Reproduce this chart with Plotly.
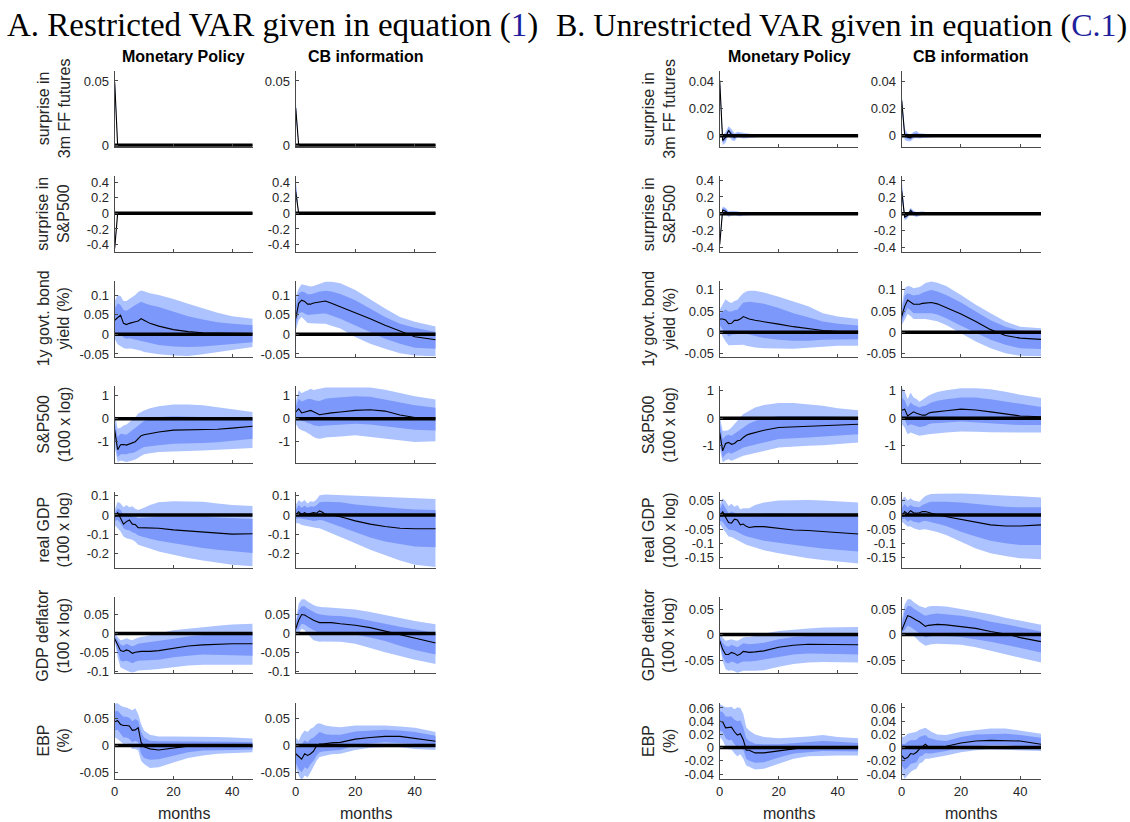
import plotly.graph_objects as go

# ---------------- data ----------------
months = [0, 1, 2, 3, 4, 5, 6, 7, 8, 9, 10, 12, 15, 20, 25, 30, 35, 40, 47]
row_labels = ["surprise in<br>3m FF futures", "surprise in<br>S&P500", "1y govt. bond<br>yield (%)",
              "S&P500<br>(100 x log)", "real GDP<br>(100 x log)", "GDP deflator<br>(100 x log)", "EBP<br>(%)"]
col_titles = ["Monetary Policy", "CB information"]
x_ticks = [0, 20, 40]

# Panel A / B tick values and ranges per row
A_yticks = [[0, 0.05], [-0.4, -0.2, 0, 0.2, 0.4], [-0.05, 0, 0.05, 0.1], [-1, 0, 1],
            [-0.2, -0.1, 0, 0.1], [-0.1, -0.05, 0, 0.05], [-0.05, 0, 0.05]]
B_yticks = [[0, 0.02, 0.04], [-0.4, -0.2, 0, 0.2, 0.4], [-0.05, 0, 0.05, 0.1], [-1, 0, 1],
            [-0.15, -0.1, -0.05, 0, 0.05], [-0.05, 0, 0.05], [-0.04, -0.02, 0, 0.02, 0.04, 0.06]]
A_yrange = [[-0.0012, 0.058], [-0.5, 0.48], [-0.057, 0.136], [-1.94, 1.42],
            [-0.275, 0.118], [-0.104, 0.094], [-0.062, 0.079]]
B_yrange = [[-0.008, 0.048], [-0.46, 0.45], [-0.058, 0.121], [-1.64, 1.17],
            [-0.186, 0.08], [-0.076, 0.073], [-0.048, 0.068]]

# ---- Panel A, row 1: surprise in 3m FF futures
A_ff_MP_med  = [0.049, 0, 0, 0, 0, 0, 0, 0, 0, 0, 0, 0, 0, 0, 0, 0, 0, 0, 0]
A_ff_MP_hi90 = [0.056, 0.0005, 0.0003, 0.0002, 0.0002, 0.0001, 0.0001, 0.0001, 0, 0, 0, 0, 0, 0, 0, 0, 0, 0, 0]
A_ff_MP_hi68 = [0.053, 0.0003, 0.0002, 0.0001, 0.0001, 0.0001, 0, 0, 0, 0, 0, 0, 0, 0, 0, 0, 0, 0, 0]
A_ff_MP_lo68 = [0.046, -0.0003, -0.0002, -0.0001, -0.0001, -0.0001, 0, 0, 0, 0, 0, 0, 0, 0, 0, 0, 0, 0, 0]
A_ff_MP_lo90 = [0.044, -0.0005, -0.0003, -0.0002, -0.0002, -0.0001, -0.0001, -0.0001, 0, 0, 0, 0, 0, 0, 0, 0, 0, 0, 0]
A_ff_CB_med  = [0.029, 0, 0, 0, 0, 0, 0, 0, 0, 0, 0, 0, 0, 0, 0, 0, 0, 0, 0]
A_ff_CB_hi90 = [0.036, 0.0006, 0.0004, 0.0003, 0.0002, 0.0001, 0.0001, 0.0001, 0, 0, 0, 0, 0, 0, 0, 0, 0, 0, 0]
A_ff_CB_hi68 = [0.033, 0.0004, 0.0002, 0.0002, 0.0001, 0.0001, 0, 0, 0, 0, 0, 0, 0, 0, 0, 0, 0, 0, 0]
A_ff_CB_lo68 = [0.026, -0.0004, -0.0002, -0.0002, -0.0001, -0.0001, 0, 0, 0, 0, 0, 0, 0, 0, 0, 0, 0, 0, 0]
A_ff_CB_lo90 = [0.024, -0.0006, -0.0004, -0.0003, -0.0002, -0.0001, -0.0001, -0.0001, 0, 0, 0, 0, 0, 0, 0, 0, 0, 0, 0]

# ---- Panel A, row 2: surprise in S&P500
A_sp_MP_med  = [-0.45, 0, 0, 0, 0, 0, 0, 0, 0, 0, 0, 0, 0, 0, 0, 0, 0, 0, 0]
A_sp_MP_hi90 = [-0.41, 0.004, 0.003, 0.002, 0.002, 0.001, 0.001, 0.001, 0, 0, 0, 0, 0, 0, 0, 0, 0, 0, 0]
A_sp_MP_hi68 = [-0.43, 0.002, 0.002, 0.001, 0.001, 0.001, 0, 0, 0, 0, 0, 0, 0, 0, 0, 0, 0, 0, 0]
A_sp_MP_lo68 = [-0.47, -0.002, -0.002, -0.001, -0.001, -0.001, 0, 0, 0, 0, 0, 0, 0, 0, 0, 0, 0, 0, 0]
A_sp_MP_lo90 = [-0.5, -0.004, -0.003, -0.002, -0.002, -0.001, -0.001, -0.001, 0, 0, 0, 0, 0, 0, 0, 0, 0, 0, 0]
A_sp_CB_med  = [0.28, 0, 0, 0, 0, 0, 0, 0, 0, 0, 0, 0, 0, 0, 0, 0, 0, 0, 0]
A_sp_CB_hi90 = [0.45, 0.004, 0.003, 0.002, 0.002, 0.001, 0.001, 0.001, 0, 0, 0, 0, 0, 0, 0, 0, 0, 0, 0]
A_sp_CB_hi68 = [0.38, 0.002, 0.002, 0.001, 0.001, 0.001, 0, 0, 0, 0, 0, 0, 0, 0, 0, 0, 0, 0, 0]
A_sp_CB_lo68 = [0.26, -0.002, -0.002, -0.001, -0.001, -0.001, 0, 0, 0, 0, 0, 0, 0, 0, 0, 0, 0, 0, 0]
A_sp_CB_lo90 = [0.24, -0.004, -0.003, -0.002, -0.002, -0.001, -0.001, -0.001, 0, 0, 0, 0, 0, 0, 0, 0, 0, 0, 0]

# ---- Panel A, row 3: 1y govt. bond yield
A_gs1_MP_med  = [0.036, 0.043, 0.049, 0.028, 0.025, 0.028, 0.031, 0.032, 0.034, 0.04, 0.036, 0.028, 0.021, 0.012, 0.007, 0.004, 0.003, 0.002, 0.002]
A_gs1_MP_hi90 = [0.085, 0.1, 0.098, 0.085, 0.085, 0.09, 0.095, 0.1, 0.108, 0.112, 0.11, 0.105, 0.1, 0.09, 0.078, 0.066, 0.055, 0.046, 0.04]
A_gs1_MP_hi68 = [0.066, 0.079, 0.075, 0.062, 0.06, 0.066, 0.07, 0.075, 0.08, 0.083, 0.08, 0.075, 0.07, 0.057, 0.046, 0.038, 0.031, 0.027, 0.023]
A_gs1_MP_lo68 = [0.006, -0.002, 0.0, -0.008, -0.011, -0.01, -0.012, -0.013, -0.015, -0.017, -0.019, -0.022, -0.027, -0.031, -0.032, -0.031, -0.028, -0.025, -0.02]
A_gs1_MP_lo90 = [-0.012, -0.025, -0.03, -0.035, -0.037, -0.036, -0.037, -0.038, -0.04, -0.042, -0.045, -0.048, -0.051, -0.054, -0.055, -0.051, -0.046, -0.04, -0.032]
A_gs1_CB_med  = [0.04, 0.079, 0.087, 0.084, 0.077, 0.077, 0.08, 0.081, 0.082, 0.084, 0.085, 0.079, 0.07, 0.057, 0.04, 0.023, 0.009, -0.006, -0.014]
A_gs1_CB_hi90 = [0.096, 0.117, 0.128, 0.126, 0.123, 0.122, 0.123, 0.126, 0.13, 0.132, 0.134, 0.134, 0.13, 0.113, 0.089, 0.066, 0.044, 0.032, 0.02]
A_gs1_CB_hi68 = [0.07, 0.104, 0.109, 0.107, 0.102, 0.102, 0.104, 0.107, 0.109, 0.11, 0.111, 0.109, 0.103, 0.087, 0.066, 0.044, 0.027, 0.017, 0.006]
A_gs1_CB_lo68 = [0.023, 0.053, 0.057, 0.053, 0.049, 0.049, 0.05, 0.051, 0.052, 0.053, 0.053, 0.048, 0.04, 0.023, 0.006, -0.011, -0.024, -0.034, -0.037]
A_gs1_CB_lo90 = [0.01, 0.036, 0.044, 0.036, 0.029, 0.028, 0.027, 0.027, 0.027, 0.027, 0.027, 0.022, 0.015, -0.007, -0.024, -0.037, -0.048, -0.054, -0.056]

# ---- Panel A, row 4: S&P500 (100 x log)
A_spx_MP_med  = [-0.5, -1.35, -1.13, -1.12, -1.15, -1.1, -1.06, -1.0, -0.87, -0.74, -0.7, -0.65, -0.58, -0.5, -0.49, -0.48, -0.46, -0.41, -0.33]
A_spx_MP_hi90 = [0.22, -0.43, -0.4, -0.3, -0.25, -0.15, -0.07, 0.05, 0.22, 0.3, 0.36, 0.45, 0.54, 0.62, 0.62, 0.58, 0.5, 0.39, 0.29]
A_spx_MP_hi68 = [-0.14, -0.8, -0.66, -0.68, -0.7, -0.6, -0.5, -0.4, -0.29, -0.18, -0.1, -0.02, 0.07, 0.1, 0.1, 0.07, 0.05, 0.04, 0.04]
A_spx_MP_lo68 = [-0.87, -1.67, -1.55, -1.55, -1.55, -1.5, -1.49, -1.45, -1.38, -1.3, -1.23, -1.2, -1.16, -1.09, -1.07, -1.06, -1.02, -0.97, -0.87]
A_spx_MP_lo90 = [-1.23, -1.88, -1.82, -1.85, -1.88, -1.85, -1.82, -1.78, -1.7, -1.62, -1.55, -1.5, -1.45, -1.41, -1.4, -1.38, -1.36, -1.33, -1.28]
A_spx_CB_med  = [0.29, 0.43, 0.25, 0.28, 0.32, 0.36, 0.3, 0.22, 0.17, 0.19, 0.22, 0.25, 0.29, 0.36, 0.39, 0.33, 0.16, 0.05, 0.02]
A_spx_CB_hi90 = [0.72, 1.23, 1.1, 1.18, 1.22, 1.3, 1.25, 1.28, 1.3, 1.33, 1.35, 1.36, 1.36, 1.38, 1.36, 1.26, 1.12, 0.97, 0.83]
A_spx_CB_hi68 = [0.51, 0.87, 0.75, 0.8, 0.85, 0.85, 0.8, 0.78, 0.77, 0.82, 0.87, 0.9, 0.93, 0.97, 0.95, 0.83, 0.7, 0.58, 0.48]
A_spx_CB_lo68 = [0.0, 0.0, -0.1, -0.12, -0.19, -0.22, -0.29, -0.31, -0.33, -0.31, -0.29, -0.27, -0.25, -0.22, -0.25, -0.33, -0.4, -0.48, -0.51]
A_spx_CB_lo90 = [-0.22, -0.43, -0.5, -0.55, -0.62, -0.7, -0.8, -0.85, -0.87, -0.85, -0.82, -0.79, -0.77, -0.72, -0.78, -0.87, -0.94, -1.01, -0.98]

# ---- Panel A, row 5: real GDP (100 x log)
A_gdp_MP_med  = [-0.01, 0.012, -0.017, -0.048, -0.035, -0.026, -0.048, -0.05, -0.066, -0.066, -0.066, -0.067, -0.069, -0.078, -0.083, -0.091, -0.096, -0.1, -0.098]
A_gdp_MP_hi90 = [0.026, 0.069, 0.06, 0.04, 0.052, 0.04, 0.045, 0.032, 0.026, 0.03, 0.038, 0.052, 0.066, 0.072, 0.072, 0.069, 0.06, 0.052, 0.047]
A_gdp_MP_hi68 = [0.009, 0.034, 0.026, 0.0, 0.009, 0.0, -0.009, -0.01, -0.017, -0.015, -0.014, -0.011, -0.009, -0.009, -0.009, -0.009, -0.013, -0.017, -0.021]
A_gdp_MP_lo68 = [-0.031, -0.026, -0.043, -0.069, -0.078, -0.08, -0.09, -0.095, -0.107, -0.112, -0.117, -0.124, -0.134, -0.147, -0.16, -0.172, -0.181, -0.19, -0.198]
A_gdp_MP_lo90 = [-0.052, -0.069, -0.086, -0.112, -0.121, -0.125, -0.129, -0.14, -0.155, -0.16, -0.164, -0.175, -0.19, -0.207, -0.224, -0.238, -0.25, -0.259, -0.267]
A_gdp_CB_med  = [0.0, 0.017, 0.003, 0.012, 0.003, 0.009, 0.012, 0.009, 0.021, 0.014, 0.003, 0.0, -0.009, -0.031, -0.048, -0.06, -0.069, -0.072, -0.072]
A_gdp_CB_hi90 = [0.052, 0.078, 0.066, 0.078, 0.06, 0.072, 0.069, 0.08, 0.103, 0.105, 0.107, 0.105, 0.103, 0.1, 0.095, 0.095, 0.09, 0.086, 0.083]
A_gdp_CB_hi68 = [0.026, 0.052, 0.038, 0.048, 0.038, 0.045, 0.043, 0.05, 0.066, 0.068, 0.069, 0.068, 0.066, 0.055, 0.048, 0.038, 0.034, 0.029, 0.026]
A_gdp_CB_lo68 = [-0.021, -0.017, -0.021, -0.022, -0.026, -0.028, -0.031, -0.03, -0.026, -0.028, -0.034, -0.043, -0.06, -0.09, -0.117, -0.138, -0.152, -0.164, -0.169]
A_gdp_CB_lo90 = [-0.043, -0.043, -0.052, -0.055, -0.06, -0.062, -0.065, -0.068, -0.069, -0.075, -0.083, -0.095, -0.112, -0.147, -0.181, -0.21, -0.238, -0.259, -0.272]

# ---- Panel A, row 6: GDP deflator (100 x log)
A_def_MP_med  = [-0.014, -0.032, -0.045, -0.047, -0.043, -0.046, -0.052, -0.049, -0.047, -0.047, -0.047, -0.047, -0.045, -0.038, -0.033, -0.03, -0.028, -0.027, -0.027]
A_def_MP_hi90 = [0.0, -0.01, -0.018, -0.016, -0.013, -0.016, -0.018, -0.014, -0.011, -0.009, -0.008, -0.005, 0.0, 0.008, 0.012, 0.017, 0.02, 0.023, 0.025]
A_def_MP_hi68 = [-0.007, -0.018, -0.029, -0.032, -0.027, -0.03, -0.034, -0.031, -0.027, -0.026, -0.025, -0.023, -0.02, -0.014, -0.008, -0.004, -0.001, 0.001, 0.002]
A_def_MP_lo68 = [-0.017, -0.045, -0.071, -0.073, -0.071, -0.074, -0.078, -0.074, -0.071, -0.071, -0.071, -0.07, -0.069, -0.062, -0.058, -0.055, -0.055, -0.056, -0.058]
A_def_MP_lo90 = [-0.018, -0.062, -0.089, -0.094, -0.097, -0.1, -0.102, -0.1, -0.097, -0.096, -0.096, -0.095, -0.093, -0.089, -0.084, -0.082, -0.082, -0.082, -0.082]
A_def_CB_med  = [0.012, 0.034, 0.049, 0.048, 0.043, 0.038, 0.034, 0.031, 0.028, 0.028, 0.028, 0.028, 0.025, 0.021, 0.015, 0.006, -0.005, -0.014, -0.025]
A_def_CB_hi90 = [0.03, 0.078, 0.089, 0.089, 0.083, 0.078, 0.074, 0.071, 0.069, 0.068, 0.068, 0.067, 0.065, 0.062, 0.056, 0.048, 0.039, 0.032, 0.024]
A_def_CB_hi68 = [0.021, 0.061, 0.071, 0.071, 0.065, 0.06, 0.056, 0.052, 0.05, 0.048, 0.047, 0.046, 0.045, 0.041, 0.034, 0.025, 0.017, 0.01, 0.001]
A_def_CB_lo68 = [0.006, 0.012, 0.025, 0.023, 0.018, 0.013, 0.008, 0.004, 0.001, 0.002, 0.003, 0.002, 0.001, -0.003, -0.011, -0.02, -0.032, -0.043, -0.055]
A_def_CB_lo90 = [0.001, 0.0, 0.012, 0.008, 0.0, -0.01, -0.018, -0.02, -0.022, -0.021, -0.02, -0.021, -0.022, -0.027, -0.038, -0.049, -0.06, -0.069, -0.08]

# ---- Panel A, row 7: EBP (%)
A_ebp_MP_med  = [0.044, 0.046, 0.039, 0.037, 0.037, 0.036, 0.028, 0.029, 0.033, 0.006, -0.002, -0.006, -0.008, -0.004, -0.001, 0.0, 0.0, 0.0, -0.001]
A_ebp_MP_hi90 = [0.077, 0.078, 0.074, 0.071, 0.07, 0.067, 0.065, 0.069, 0.058, 0.04, 0.028, 0.02, 0.017, 0.017, 0.017, 0.017, 0.016, 0.015, 0.013]
A_ebp_MP_hi68 = [0.063, 0.064, 0.058, 0.053, 0.053, 0.051, 0.045, 0.049, 0.046, 0.025, 0.015, 0.009, 0.008, 0.008, 0.008, 0.008, 0.008, 0.007, 0.006]
A_ebp_MP_lo68 = [0.028, 0.029, 0.021, 0.015, 0.015, 0.012, 0.006, 0.009, 0.006, -0.015, -0.023, -0.026, -0.025, -0.018, -0.012, -0.009, -0.008, -0.008, -0.007]
A_ebp_MP_lo90 = [0.015, 0.012, 0.008, 0.003, 0.004, 0.0, -0.006, -0.006, -0.009, -0.028, -0.034, -0.041, -0.04, -0.031, -0.023, -0.018, -0.015, -0.013, -0.012]
A_ebp_CB_med  = [-0.015, -0.021, -0.025, -0.015, -0.018, -0.015, -0.01, 0.0, 0.003, 0.003, 0.004, 0.005, 0.006, 0.012, 0.015, 0.017, 0.017, 0.013, 0.008]
A_ebp_CB_hi90 = [0.015, 0.009, 0.021, 0.028, 0.025, 0.031, 0.034, 0.04, 0.041, 0.039, 0.037, 0.035, 0.034, 0.037, 0.037, 0.037, 0.035, 0.033, 0.025]
A_ebp_CB_hi68 = [0.003, -0.003, 0.003, 0.01, 0.006, 0.012, 0.015, 0.021, 0.025, 0.023, 0.021, 0.02, 0.02, 0.026, 0.028, 0.029, 0.028, 0.025, 0.018]
A_ebp_CB_lo68 = [-0.031, -0.043, -0.049, -0.04, -0.043, -0.034, -0.028, -0.018, -0.012, -0.011, -0.01, -0.009, -0.008, 0.0, 0.004, 0.006, 0.005, 0.003, 0.0]
A_ebp_CB_lo90 = [-0.04, -0.055, -0.064, -0.055, -0.058, -0.049, -0.04, -0.028, -0.021, -0.019, -0.018, -0.016, -0.015, -0.008, -0.004, -0.003, -0.003, -0.006, -0.008]

# ---- Panel B, row 1: surprise in 3m FF futures
B_ff_MP_med  = [0.041, -0.0035, -0.001, 0.004, 0.001, -0.001, 0.001, 0.0005, 0.0, 0.0003, 0.0, 0.0, 0, 0, 0, 0, 0, 0, 0]
B_ff_MP_hi90 = [0.046, 0.0, 0.003, 0.007, 0.005, 0.002, 0.003, 0.0025, 0.002, 0.0018, 0.0015, 0.0012, 0.0005, 0.0002, 0.0001, 0.0001, 0, 0, 0]
B_ff_MP_hi68 = [0.044, -0.002, 0.001, 0.0055, 0.003, 0.0005, 0.002, 0.0015, 0.001, 0.001, 0.0008, 0.0006, 0.0003, 0.0001, 0, 0, 0, 0, 0]
B_ff_MP_lo68 = [0.038, -0.005, -0.003, 0.0025, -0.001, -0.0025, 0.0, -0.0005, -0.001, -0.0008, -0.0008, -0.0006, -0.0003, -0.0001, 0, 0, 0, 0, 0]
B_ff_MP_lo90 = [0.036, -0.007, -0.005, 0.001, -0.003, -0.004, -0.001, -0.0015, -0.002, -0.0018, -0.0015, -0.0012, -0.0005, -0.0002, -0.0001, -0.0001, 0, 0, 0]
B_ff_CB_med  = [0.026, 0.001, -0.001, -0.0015, 0.0005, 0.001, 0.0, 0.0, 0.0003, 0, 0, 0, 0, 0, 0, 0, 0, 0, 0]
B_ff_CB_hi90 = [0.031, 0.005, 0.002, 0.001, 0.003, 0.0035, 0.002, 0.0015, 0.0015, 0.0012, 0.001, 0.0008, 0.0005, 0.0002, 0.0001, 0, 0, 0, 0]
B_ff_CB_hi68 = [0.029, 0.003, 0.0005, -0.0003, 0.0018, 0.0022, 0.001, 0.0008, 0.0008, 0.0006, 0.0005, 0.0004, 0.0003, 0.0001, 0, 0, 0, 0, 0]
B_ff_CB_lo68 = [0.023, -0.001, -0.0025, -0.0027, -0.0008, -0.0002, -0.001, -0.0008, -0.0005, -0.0005, -0.0005, -0.0004, -0.0003, -0.0001, 0, 0, 0, 0, 0]
B_ff_CB_lo90 = [0.021, -0.003, -0.004, -0.004, -0.002, -0.0015, -0.002, -0.0015, -0.0012, -0.001, -0.001, -0.0008, -0.0005, -0.0002, -0.0001, 0, 0, 0, 0]

# ---- Panel B, row 2: surprise in S&P500
B_sp_MP_med  = [-0.37, 0.045, 0.03, 0.0, 0.005, 0.01, 0.005, -0.005, 0.0, 0.005, 0.0, 0.0, 0, 0, 0, 0, 0, 0, 0]
B_sp_MP_hi90 = [-0.34, 0.085, 0.07, 0.03, 0.035, 0.035, 0.03, 0.02, 0.02, 0.02, 0.015, 0.01, 0.005, 0.002, 0.001, 0, 0, 0, 0]
B_sp_MP_hi68 = [-0.35, 0.07, 0.055, 0.018, 0.022, 0.025, 0.02, 0.01, 0.012, 0.014, 0.009, 0.006, 0.003, 0.001, 0, 0, 0, 0, 0]
B_sp_MP_lo68 = [-0.39, 0.02, 0.005, -0.02, -0.012, -0.006, -0.01, -0.02, -0.012, -0.005, -0.008, -0.006, -0.003, -0.001, 0, 0, 0, 0, 0]
B_sp_MP_lo90 = [-0.4, 0.0, -0.01, -0.035, -0.025, -0.018, -0.022, -0.03, -0.022, -0.015, -0.015, -0.01, -0.005, -0.002, -0.001, 0, 0, 0, 0]
B_sp_CB_med  = [0.27, -0.04, -0.02, 0.04, 0.005, -0.01, 0.0, 0.01, 0.005, 0.0, 0.0, 0.0, 0, 0, 0, 0, 0, 0, 0]
B_sp_CB_hi90 = [0.42, 0.0, 0.01, 0.07, 0.035, 0.02, 0.025, 0.03, 0.02, 0.015, 0.012, 0.008, 0.004, 0.002, 0.001, 0, 0, 0, 0]
B_sp_CB_hi68 = [0.36, -0.02, -0.005, 0.055, 0.02, 0.005, 0.012, 0.02, 0.012, 0.008, 0.006, 0.004, 0.002, 0.001, 0, 0, 0, 0, 0]
B_sp_CB_lo68 = [0.23, -0.06, -0.035, 0.025, -0.01, -0.025, -0.012, 0.0, -0.003, -0.008, -0.006, -0.004, -0.002, -0.001, 0, 0, 0, 0, 0]
B_sp_CB_lo90 = [0.2, -0.08, -0.05, 0.01, -0.025, -0.04, -0.025, -0.01, -0.012, -0.015, -0.012, -0.008, -0.004, -0.002, -0.001, 0, 0, 0, 0]

# ---- Panel B, row 3: 1y govt. bond yield
B_gs1_MP_med  = [0.031, 0.031, 0.029, 0.02, 0.021, 0.028, 0.028, 0.031, 0.037, 0.034, 0.031, 0.028, 0.024, 0.019, 0.013, 0.008, 0.004, 0.002, 0.002]
B_gs1_MP_hi90 = [0.053, 0.065, 0.078, 0.072, 0.069, 0.074, 0.076, 0.085, 0.092, 0.096, 0.098, 0.098, 0.094, 0.084, 0.072, 0.061, 0.045, 0.037, 0.031]
B_gs1_MP_hi68 = [0.043, 0.049, 0.054, 0.049, 0.049, 0.052, 0.053, 0.062, 0.07, 0.071, 0.072, 0.07, 0.067, 0.057, 0.045, 0.035, 0.025, 0.02, 0.016]
B_gs1_MP_lo68 = [0.017, 0.007, -0.002, -0.01, -0.006, -0.004, -0.004, -0.003, -0.002, -0.004, -0.006, -0.009, -0.014, -0.018, -0.02, -0.02, -0.018, -0.017, -0.017]
B_gs1_MP_lo90 = [0.006, -0.01, -0.022, -0.031, -0.03, -0.03, -0.03, -0.03, -0.03, -0.032, -0.034, -0.036, -0.038, -0.039, -0.039, -0.037, -0.035, -0.032, -0.032]
B_gs1_CB_med  = [0.037, 0.061, 0.076, 0.071, 0.066, 0.066, 0.066, 0.068, 0.069, 0.07, 0.07, 0.067, 0.058, 0.043, 0.025, 0.006, -0.008, -0.014, -0.017]
B_gs1_CB_hi90 = [0.061, 0.104, 0.109, 0.108, 0.104, 0.106, 0.107, 0.111, 0.116, 0.118, 0.12, 0.117, 0.109, 0.088, 0.065, 0.045, 0.025, 0.013, 0.009]
B_gs1_CB_hi68 = [0.049, 0.086, 0.092, 0.09, 0.087, 0.088, 0.089, 0.093, 0.096, 0.098, 0.1, 0.096, 0.088, 0.07, 0.049, 0.028, 0.013, 0.004, 0.002]
B_gs1_CB_lo68 = [0.025, 0.041, 0.057, 0.052, 0.045, 0.045, 0.046, 0.046, 0.046, 0.045, 0.045, 0.042, 0.033, 0.015, -0.002, -0.018, -0.03, -0.038, -0.04]
B_gs1_CB_lo90 = [0.017, 0.029, 0.043, 0.038, 0.031, 0.031, 0.031, 0.031, 0.031, 0.03, 0.029, 0.026, 0.017, -0.002, -0.022, -0.038, -0.05, -0.056, -0.057]

# ---- Panel B, row 4: S&P500 (100 x log)
B_spx_MP_med  = [-0.52, -1.19, -0.92, -0.88, -0.95, -0.92, -0.82, -0.8, -0.7, -0.62, -0.58, -0.52, -0.44, -0.34, -0.32, -0.3, -0.28, -0.25, -0.22]
B_spx_MP_hi90 = [0.08, -0.46, -0.46, -0.43, -0.34, -0.22, -0.1, 0.02, 0.15, 0.21, 0.27, 0.39, 0.48, 0.55, 0.55, 0.51, 0.45, 0.36, 0.29]
B_spx_MP_hi68 = [-0.16, -0.76, -0.64, -0.6, -0.64, -0.56, -0.48, -0.4, -0.32, -0.25, -0.19, -0.1, 0.0, 0.08, 0.08, 0.08, 0.07, 0.05, 0.02]
B_spx_MP_lo68 = [-0.88, -1.45, -1.31, -1.25, -1.29, -1.24, -1.19, -1.13, -1.07, -1.03, -1.0, -0.95, -0.88, -0.76, -0.73, -0.7, -0.68, -0.64, -0.58]
B_spx_MP_lo90 = [-1.07, -1.61, -1.53, -1.49, -1.55, -1.5, -1.45, -1.41, -1.37, -1.34, -1.31, -1.26, -1.19, -1.07, -1.03, -1.0, -0.98, -0.95, -0.88]
B_spx_CB_med  = [0.29, 0.33, 0.08, 0.17, 0.23, 0.18, 0.15, 0.11, 0.11, 0.18, 0.21, 0.24, 0.27, 0.33, 0.3, 0.23, 0.15, 0.08, 0.05]
B_spx_CB_hi90 = [1.12, 0.99, 0.69, 0.93, 0.75, 0.7, 0.6, 0.68, 0.75, 0.82, 0.87, 0.95, 1.02, 1.09, 1.09, 1.05, 0.96, 0.85, 0.73]
B_spx_CB_hi68 = [0.75, 0.65, 0.39, 0.57, 0.48, 0.44, 0.39, 0.43, 0.45, 0.52, 0.57, 0.63, 0.69, 0.75, 0.75, 0.69, 0.61, 0.51, 0.41]
B_spx_CB_lo68 = [0.05, -0.04, -0.28, -0.22, -0.25, -0.28, -0.32, -0.3, -0.28, -0.22, -0.19, -0.17, -0.16, -0.12, -0.15, -0.19, -0.22, -0.25, -0.25]
B_spx_CB_lo90 = [-0.22, -0.34, -0.58, -0.52, -0.56, -0.6, -0.64, -0.62, -0.6, -0.58, -0.56, -0.54, -0.52, -0.48, -0.49, -0.51, -0.52, -0.52, -0.52]

# ---- Panel B, row 5: real GDP (100 x log)
B_gdp_MP_med  = [-0.006, 0.012, -0.008, -0.027, -0.029, -0.015, -0.018, -0.035, -0.032, -0.04, -0.044, -0.041, -0.041, -0.047, -0.053, -0.055, -0.059, -0.062, -0.067]
B_gdp_MP_hi90 = [0.035, 0.059, 0.048, 0.032, 0.04, 0.029, 0.035, 0.02, 0.024, 0.024, 0.024, 0.035, 0.044, 0.051, 0.053, 0.053, 0.051, 0.047, 0.044]
B_gdp_MP_hi68 = [0.018, 0.041, 0.024, 0.006, 0.012, 0.008, 0.006, 0.0, 0.0, -0.003, -0.006, 0.0, 0.006, 0.006, 0.006, 0.004, 0.002, 0.0, -0.004]
B_gdp_MP_lo68 = [-0.02, -0.024, -0.039, -0.051, -0.053, -0.055, -0.059, -0.065, -0.071, -0.075, -0.079, -0.084, -0.091, -0.098, -0.106, -0.112, -0.118, -0.124, -0.129]
B_gdp_MP_lo90 = [-0.032, -0.047, -0.062, -0.076, -0.078, -0.082, -0.088, -0.094, -0.1, -0.105, -0.109, -0.115, -0.124, -0.135, -0.145, -0.153, -0.159, -0.165, -0.171]
B_gdp_CB_med  = [-0.006, 0.012, 0.004, 0.015, 0.008, 0.006, 0.008, 0.012, 0.012, 0.008, 0.006, 0.0, -0.006, -0.015, -0.027, -0.035, -0.039, -0.039, -0.035]
B_gdp_CB_hi90 = [0.053, 0.065, 0.051, 0.059, 0.051, 0.049, 0.047, 0.058, 0.067, 0.071, 0.074, 0.075, 0.076, 0.076, 0.074, 0.071, 0.067, 0.065, 0.062]
B_gdp_CB_hi68 = [0.024, 0.039, 0.027, 0.035, 0.029, 0.027, 0.027, 0.035, 0.041, 0.044, 0.047, 0.047, 0.047, 0.044, 0.039, 0.032, 0.029, 0.027, 0.027]
B_gdp_CB_lo68 = [-0.015, -0.012, -0.024, -0.018, -0.024, -0.026, -0.027, -0.022, -0.02, -0.022, -0.024, -0.03, -0.039, -0.059, -0.076, -0.091, -0.1, -0.106, -0.106]
B_gdp_CB_lo90 = [-0.024, -0.032, -0.041, -0.041, -0.047, -0.05, -0.053, -0.051, -0.05, -0.052, -0.055, -0.06, -0.071, -0.094, -0.118, -0.135, -0.145, -0.153, -0.156]

# ---- Panel B, row 6: GDP deflator (100 x log)
B_def_MP_med  = [-0.012, -0.029, -0.039, -0.039, -0.035, -0.037, -0.041, -0.038, -0.033, -0.034, -0.035, -0.034, -0.032, -0.025, -0.021, -0.019, -0.019, -0.019, -0.02]
B_def_MP_hi90 = [0.004, -0.006, -0.012, -0.011, -0.009, -0.011, -0.012, -0.009, -0.006, -0.005, -0.005, -0.003, 0.002, 0.007, 0.01, 0.012, 0.014, 0.015, 0.015]
B_def_MP_hi68 = [-0.005, -0.016, -0.022, -0.024, -0.02, -0.022, -0.025, -0.021, -0.017, -0.018, -0.019, -0.018, -0.016, -0.009, -0.005, -0.003, -0.002, -0.002, -0.002]
B_def_MP_lo68 = [-0.016, -0.042, -0.055, -0.057, -0.053, -0.055, -0.058, -0.055, -0.053, -0.053, -0.053, -0.052, -0.05, -0.044, -0.039, -0.037, -0.037, -0.038, -0.039]
B_def_MP_lo90 = [-0.019, -0.052, -0.068, -0.071, -0.07, -0.072, -0.075, -0.073, -0.071, -0.071, -0.071, -0.071, -0.07, -0.063, -0.058, -0.055, -0.054, -0.054, -0.055]
B_def_CB_med  = [0.008, 0.024, 0.037, 0.035, 0.031, 0.028, 0.025, 0.02, 0.016, 0.018, 0.019, 0.02, 0.019, 0.016, 0.012, 0.006, 0.001, -0.006, -0.014]
B_def_CB_hi90 = [0.027, 0.059, 0.069, 0.069, 0.064, 0.06, 0.056, 0.054, 0.052, 0.055, 0.056, 0.056, 0.055, 0.05, 0.045, 0.04, 0.033, 0.027, 0.019]
B_def_CB_hi68 = [0.017, 0.046, 0.056, 0.056, 0.051, 0.047, 0.043, 0.04, 0.037, 0.039, 0.04, 0.041, 0.04, 0.037, 0.032, 0.025, 0.02, 0.014, 0.006]
B_def_CB_lo68 = [0.004, 0.009, 0.017, 0.015, 0.01, 0.006, 0.002, -0.002, -0.006, -0.005, -0.003, -0.001, -0.003, -0.005, -0.009, -0.014, -0.02, -0.027, -0.035]
B_def_CB_lo90 = [0.0, -0.003, 0.004, 0.0, -0.003, -0.008, -0.014, -0.018, -0.022, -0.02, -0.019, -0.018, -0.018, -0.02, -0.025, -0.032, -0.039, -0.045, -0.055]

# ---- Panel B, row 7: EBP (%)
B_ebp_MP_med  = [0.04, 0.039, 0.03, 0.03, 0.031, 0.024, 0.019, 0.021, 0.012, -0.004, -0.004, -0.008, -0.008, -0.005, -0.002, 0.001, 0.001, 0.001, 0.001]
B_ebp_MP_hi90 = [0.066, 0.064, 0.061, 0.061, 0.062, 0.058, 0.061, 0.06, 0.051, 0.031, 0.026, 0.02, 0.016, 0.014, 0.015, 0.017, 0.019, 0.016, 0.014]
B_ebp_MP_hi68 = [0.055, 0.054, 0.047, 0.047, 0.047, 0.042, 0.04, 0.041, 0.031, 0.014, 0.01, 0.006, 0.005, 0.005, 0.007, 0.009, 0.01, 0.009, 0.007]
B_ebp_MP_lo68 = [0.026, 0.024, 0.014, 0.011, 0.012, 0.005, 0.001, 0.004, -0.003, -0.017, -0.02, -0.023, -0.022, -0.015, -0.009, -0.007, -0.005, -0.005, -0.006]
B_ebp_MP_lo90 = [0.016, 0.011, 0.001, -0.003, -0.003, -0.009, -0.013, -0.01, -0.017, -0.027, -0.029, -0.033, -0.032, -0.024, -0.017, -0.013, -0.012, -0.012, -0.012]
B_ebp_CB_med  = [-0.012, -0.017, -0.015, -0.009, -0.01, -0.007, -0.002, 0.001, 0.005, 0.001, 0.001, 0.001, 0.002, 0.007, 0.01, 0.011, 0.011, 0.01, 0.005]
B_ebp_CB_hi90 = [0.016, 0.017, 0.021, 0.022, 0.024, 0.024, 0.027, 0.028, 0.03, 0.027, 0.024, 0.02, 0.019, 0.024, 0.027, 0.029, 0.029, 0.026, 0.021]
B_ebp_CB_hi68 = [0.006, 0.005, 0.009, 0.011, 0.011, 0.012, 0.016, 0.017, 0.019, 0.015, 0.014, 0.011, 0.01, 0.016, 0.02, 0.021, 0.021, 0.019, 0.015]
B_ebp_CB_lo68 = [-0.027, -0.033, -0.03, -0.025, -0.024, -0.022, -0.014, -0.012, -0.008, -0.009, -0.009, -0.008, -0.005, 0.0, 0.002, 0.004, 0.004, 0.002, -0.002]
B_ebp_CB_lo90 = [-0.038, -0.047, -0.042, -0.037, -0.034, -0.032, -0.024, -0.022, -0.017, -0.017, -0.017, -0.015, -0.012, -0.007, -0.004, -0.003, -0.003, -0.004, -0.005]

# ---------------- assembly ----------------
var_keys = ["ff", "sp", "gs1", "spx", "gdp", "def", "ebp"]
shock_keys = ["MP", "CB"]
g = globals()

def series(panel, var, shock):
    pre = f"{panel}_{var}_{shock}_"
    return {s: g[pre + s] for s in ["med", "hi90", "hi68", "lo68", "lo90"]}

W, H = 1130, 822
COL_PX = {("A", 0): (114.7, 252.7), ("A", 1): (295.7, 435.7),
          ("B", 0): (719.7, 858.3), ("B", 1): (901.7, 1041.0)}
ROW_PX = [(70.7, 146.7), (176.0, 252.3), (281.0, 356.7), (386.0, 463.3),
          (492.3, 567.7), (597.3, 673.3), (702.7, 779.3)]
LIGHT = "#adc3ff"
DARK = "#7c98fb"
AXC = "#4a4a4a"
TXT = "#262626"
SANS = "Liberation Sans, Arial, sans-serif"
SERIF = "Liberation Serif, Times New Roman, serif"

fig = go.Figure()
layout = {}
annotations = []

def fmt(v):
    return f"{v:g}"

k = 0
for panel in ["A", "B"]:
    yticks = A_yticks if panel == "A" else B_yticks
    yranges = A_yrange if panel == "A" else B_yrange
    for r, var in enumerate(var_keys):
        for c, shock in enumerate(shock_keys):
            k += 1
            xa = "x" if k == 1 else f"x{k}"
            ya = "y" if k == 1 else f"y{k}"
            d = series(panel, var, shock)
            x0, x1 = COL_PX[(panel, c)]
            t, b = ROW_PX[r]
            fig.add_trace(go.Scatter(x=months + months[::-1], y=d["hi90"] + d["lo90"][::-1],
                                     fill="toself", fillcolor=LIGHT, mode="lines",
                                     line=dict(width=0, color=LIGHT), hoverinfo="skip",
                                     xaxis=xa, yaxis=ya))
            fig.add_trace(go.Scatter(x=months + months[::-1], y=d["hi68"] + d["lo68"][::-1],
                                     fill="toself", fillcolor=DARK, mode="lines",
                                     line=dict(width=0, color=DARK), hoverinfo="skip",
                                     xaxis=xa, yaxis=ya))
            fig.add_trace(go.Scatter(x=[months[0], months[-1]], y=[0, 0], mode="lines",
                                     line=dict(color="black", width=3.5), hoverinfo="skip",
                                     xaxis=xa, yaxis=ya))
            fig.add_trace(go.Scatter(x=months, y=d["med"], mode="lines",
                                     line=dict(color="black", width=1.1), hoverinfo="skip",
                                     xaxis=xa, yaxis=ya))
            axis_common = dict(showline=True, linecolor=AXC, linewidth=1, mirror=False,
                               ticks="inside", ticklen=3, tickcolor=AXC, tickwidth=1,
                               showgrid=False, zeroline=False, automargin=False,
                               tickfont=dict(family=SANS, size=13, color=TXT))
            layout["xaxis" if k == 1 else f"xaxis{k}"] = dict(
                axis_common, domain=[x0 / W, x1 / W], range=[0, 47], anchor=ya,
                tickvals=x_ticks, ticktext=[fmt(v) for v in x_ticks],
                showticklabels=(r == len(var_keys) - 1))
            layout["yaxis" if k == 1 else f"yaxis{k}"] = dict(
                axis_common, domain=[1 - b / H, 1 - t / H], range=yranges[r], anchor=xa,
                tickvals=yticks[r], ticktext=[fmt(v) for v in yticks[r]], ticklabelstandoff=2)
            if c == 0:
                annotations.append(dict(text=row_labels[r], textangle=-90, xref="paper", yref="paper",
                                        x=(53.5 if panel == "A" else 659) / W, y=1 - (t + b) / 2 / H,
                                        xanchor="center", yanchor="middle", showarrow=False,
                                        font=dict(family=SANS, size=16, color=TXT)))
            if r == 0:
                annotations.append(dict(text=f"<b>{col_titles[c]}</b>", xref="paper", yref="paper",
                                        x=(x0 + x1) / 2 / W, y=1 - 56 / H, xanchor="center",
                                        yanchor="middle", showarrow=False,
                                        font=dict(family=SANS, size=16, color="black")))
            if r == len(var_keys) - 1:
                annotations.append(dict(text="months", xref="paper", yref="paper",
                                        x=(x0 + x1) / 2 / W, y=1 - 813 / H, xanchor="center",
                                        yanchor="middle", showarrow=False,
                                        font=dict(family=SANS, size=16, color=TXT)))

annotations.append(dict(text="A. Restricted VAR given in equation (<span style='color:#1f1f9e'>1</span>)",
                        xref="paper", yref="paper", x=5 / W, y=1 - 25 / H, xanchor="left",
                        yanchor="middle", showarrow=False, font=dict(family=SERIF, size=33, color="black")))
annotations.append(dict(text="B. Unrestricted VAR given in equation (<span style='color:#1f1f9e'>C.1</span>)",
                        xref="paper", yref="paper", x=554 / W, y=1 - 25 / H, xanchor="left",
                        yanchor="middle", showarrow=False, font=dict(family=SERIF, size=32, color="black")))

fig.update_layout(**layout)
fig.update_layout(template="none", width=W, height=H, margin=dict(l=0, r=0, t=0, b=0, pad=0),
                  paper_bgcolor="white", plot_bgcolor="white", showlegend=False,
                  annotations=annotations, font=dict(family=SANS, color=TXT))
fig.write_html("out.html", config={"displayModeBar": False, "staticPlot": True},
               post_script="document.body.style.margin='0px';document.body.style.padding='0px';"
                           "document.body.style.overflow='hidden';")
